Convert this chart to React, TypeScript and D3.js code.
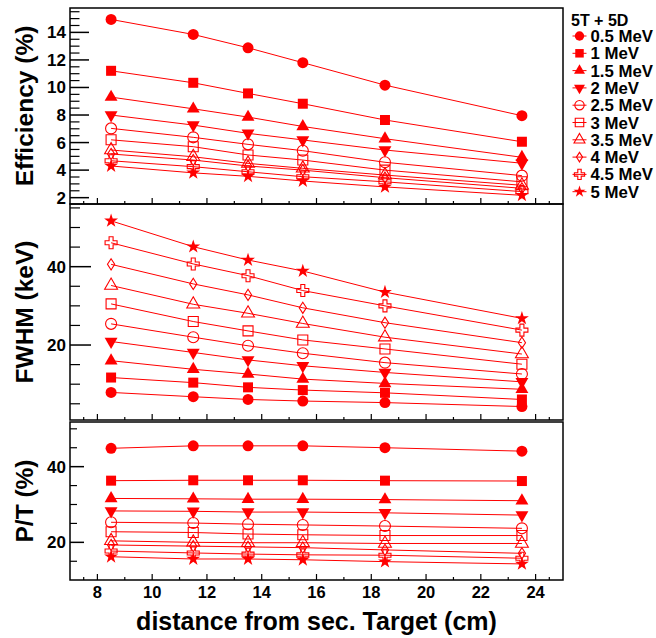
import React from 'react';
import * as d3 from 'd3';

const distances = [8.5, 11.5, 13.5, 15.5, 18.5, 23.5];
const energyLabels = ['0.5 MeV', '1 MeV', '1.5 MeV', '2 MeV', '2.5 MeV', '3 MeV', '3.5 MeV', '4 MeV', '4.5 MeV', '5 MeV'];
const markerKinds = ['circle', 'square', 'triUp', 'triDown', 'circle', 'square', 'triUp', 'diamond', 'cross', 'star'];
const markerFilled = [true, true, true, true, false, false, false, false, false, true];
const legendHeader = '5T + 5D';

const efficiency = [
  [14.94, 13.85, 12.88, 11.8, 10.17, 7.95],
  [11.21, 10.34, 9.57, 8.82, 7.64, 6.06],
  [9.3, 8.45, 7.85, 7.17, 6.28, 4.93],
  [8.0, 7.27, 6.67, 6.19, 5.46, 4.5],
  [7.03, 6.38, 5.87, 5.41, 4.57, 3.6],
  [6.2, 5.7, 5.1, 4.73, 4.0, 3.15],
  [5.46, 4.97, 4.49, 4.13, 3.64, 2.9],
  [5.17, 4.73, 4.3, 4.0, 3.45, 2.68],
  [4.68, 4.25, 3.88, 3.52, 3.15, 2.44],
  [4.3, 3.8, 3.55, 3.21, 2.78, 2.17],
];

const fwhm = [
  [7.9, 6.8, 6.1, 5.7, 5.3, 4.3],
  [11.7, 10.4, 9.2, 8.5, 7.8, 6.1],
  [16.0, 13.8, 12.6, 11.3, 10.2, 8.7],
  [20.9, 18.1, 16.2, 14.7, 13.0, 10.6],
  [25.4, 22.0, 19.8, 17.9, 15.5, 12.6],
  [30.5, 26.0, 23.6, 21.3, 19.0, 15.1],
  [35.2, 30.4, 28.1, 25.5, 22.0, 17.7],
  [40.6, 35.6, 32.8, 29.5, 25.7, 20.6],
  [46.1, 40.7, 37.7, 33.9, 30.0, 23.8],
  [51.7, 45.1, 41.7, 38.9, 33.5, 26.8],
];

const peakToTotal = [
  [44.85, 45.5, 45.5, 45.5, 45.0, 44.1],
  [36.3, 36.4, 36.4, 36.4, 36.3, 36.2],
  [31.6, 31.5, 31.4, 31.4, 31.3, 31.0],
  [28.3, 28.2, 28.0, 28.0, 27.8, 27.2],
  [25.3, 25.1, 24.8, 24.6, 24.3, 23.7],
  [22.8, 22.6, 22.2, 22.0, 21.8, 21.8],
  [20.4, 20.0, 19.9, 19.9, 19.7, 19.7],
  [19.3, 19.0, 18.8, 18.6, 18.0, 17.1],
  [17.7, 17.2, 16.9, 16.7, 16.6, 15.8],
  [16.2, 15.6, 15.6, 15.4, 14.9, 14.3],
];

const xTickValues = [8, 10, 12, 14, 16, 18, 20, 22, 24];
const effTicks = [2, 4, 6, 8, 10, 12, 14];
const fwhmTicks = [20, 40];
const ptTicks = [20, 40];
const xAxisTitle = 'distance from sec. Target (cm)';

const W = 656;
const H = 638;
const LEFT = 70;
const RIGHT = 563;
const RED = '#ff0000';
const FONT = '"Liberation Sans", Arial, Helvetica, sans-serif';

const panels = [
  { top: 8, bottom: 204, domain: [1.54, 15.77], data: efficiency, ticks: effTicks, minorStep: 0.5, label: 'Efficiency (%)', major: 19, minor: 9.5 },
  { top: 204, bottom: 420, domain: [0.86, 56], data: fwhm, ticks: fwhmTicks, minorStep: 5, label: 'FWHM (keV)', major: 21, minor: 10 },
  { top: 422, bottom: 580, domain: [10.05, 51.8], data: peakToTotal, ticks: ptTicks, minorStep: 5, label: 'P/T (%)', major: 14, minor: 7 },
];

function markerPath(kind: string, s: number): string {
  switch (kind) {
    case 'circle':
      return d3.symbol(d3.symbolCircle, 95 * s * s)() as string;
    case 'square':
      return d3.symbol(d3.symbolSquare, 100 * s * s)() as string;
    case 'triUp':
    case 'triDown':
      return d3.symbol(d3.symbolTriangle, 72 * s * s)() as string;
    case 'diamond': {
      const p = d3.path();
      const hw = 3.6 * s;
      const hh = 5.6 * s;
      p.moveTo(0, -hh);
      p.lineTo(hw, 0);
      p.lineTo(0, hh);
      p.lineTo(-hw, 0);
      p.closePath();
      return p.toString();
    }
    case 'cross':
      return d3.symbol(d3.symbolCross, 80 * s * s)() as string;
    case 'star':
      return d3.symbol(d3.symbolStar, 60 * s * s)() as string;
  }
  return '';
}

function markerTransform(kind: string, x: number, y: number): string {
  if (kind === 'triDown') return `translate(${x},${y}) rotate(180)`;
  return `translate(${x},${y})`;
}

function Marker({ i, x, y, scale }: { i: number; x: number; y: number; scale: number }) {
  const kind = markerKinds[i];
  const filled = markerFilled[i];
  return (
    <path
      d={markerPath(kind, scale)}
      transform={markerTransform(kind, x, y)}
      fill={filled ? RED : 'none'}
      stroke={filled ? 'none' : RED}
      strokeWidth={1.1}
    />
  );
}

export default function App() {
  const x = d3.scaleLinear().domain([7, 25]).range([LEFT, RIGHT]);
  const xMinor = [7.5, ...d3.range(8, 25, 1), 24.5];

  return (
    <svg width={W} height={H} style={{ position: 'absolute', left: 0, top: 0, background: '#fff' }} fontFamily={FONT}>
      <rect x={0} y={0} width={W} height={H} fill="#fff" />
      {panels.map((p, pi) => {
        const y = d3.scaleLinear().domain(p.domain).range([p.bottom, p.top]);
        const minorTicks = d3.range(Math.ceil(p.domain[0] / p.minorStep) * p.minorStep, p.domain[1], p.minorStep)
          .filter((v) => !p.ticks.some((t) => Math.abs(t - v) < 1e-6));
        const line = d3.line<number>().x((_, j) => x(distances[j])).y((v) => y(v));
        return (
          <g key={pi}>
            {p.data.map((series, si) => (
              <g key={si}>
                <path d={line(series) as string} fill="none" stroke={RED} strokeWidth={1} />
                {series.map((v, j) => (
                  <Marker key={j} i={si} x={x(distances[j])} y={y(v)} scale={1} />
                ))}
              </g>
            ))}
            {p.ticks.map((t) => (
              <g key={'t' + t}>
                <line x1={LEFT} x2={LEFT + p.major} y1={y(t)} y2={y(t)} stroke="#000" strokeWidth={1.5} />
                <text x={66} y={y(t)} dy="0.35em" textAnchor="end" fontSize={17} fontWeight="bold">{t}</text>
              </g>
            ))}
            {minorTicks.map((t) => (
              <line key={'m' + t} x1={LEFT} x2={LEFT + p.minor} y1={y(t)} y2={y(t)} stroke="#000" strokeWidth={1.2} />
            ))}
            {xTickValues.map((t) => (
              <line key={'xt' + t} x1={x(t)} x2={x(t)} y1={p.bottom} y2={p.bottom - 6} stroke="#000" strokeWidth={1.2} />
            ))}
            {xMinor.filter((t) => !xTickValues.includes(t)).map((t) => (
              <line key={'xm' + t} x1={x(t)} x2={x(t)} y1={p.bottom} y2={p.bottom - 3} stroke="#000" strokeWidth={1.2} />
            ))}
            <rect x={LEFT} y={p.top} width={RIGHT - LEFT} height={p.bottom - p.top} fill="none" stroke="#000" strokeWidth={1.5} />
            <text
              transform={`translate(33,${(p.top + p.bottom) / 2}) rotate(-90)`}
              textAnchor="middle"
              fontSize={24.5}
              fontWeight="bold"
            >
              {p.label}
            </text>
          </g>
        );
      })}
      {xTickValues.map((t) => (
        <text key={'xl' + t} x={x(t)} y={598} textAnchor="middle" fontSize={16.5} fontWeight="bold">{t}</text>
      ))}
      <text x={(LEFT + RIGHT) / 2} y={630} textAnchor="middle" fontSize={25} fontWeight="bold">{xAxisTitle}</text>
      <text x={571} y={26} fontSize={16} fontWeight="bold">{legendHeader}</text>
      {energyLabels.map((lab, i) => {
        const cy = 36 + i * 17.3;
        return (
          <g key={lab}>
            <line x1={572.5} x2={586.5} y1={cy} y2={cy} stroke={RED} strokeWidth={1} />
            <Marker i={i} x={579.5} y={cy} scale={0.85} />
            <text x={590.5} y={cy + 6} fontSize={16.8} fontWeight="bold">{lab}</text>
          </g>
        );
      })}
    </svg>
  );
}
